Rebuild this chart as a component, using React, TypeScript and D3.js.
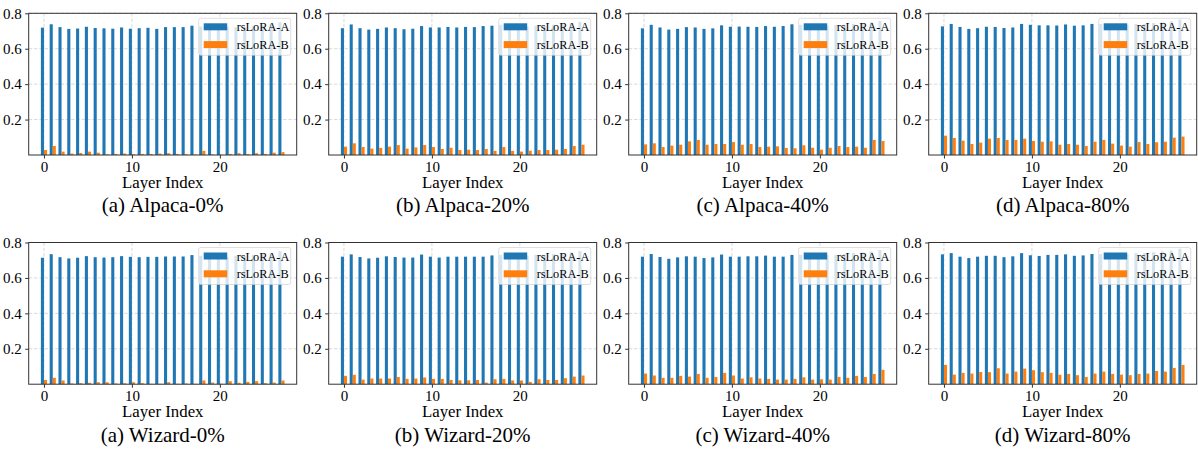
import React, {useEffect, useRef} from "react";
import * as d3 from "d3";

const layers = [0, 1, 2, 3, 4, 5, 6, 7, 8, 9, 10, 11, 12, 13, 14, 15, 16, 17, 18, 19, 20, 21, 22, 23, 24, 25, 26, 27];
const xTicks = [0, 10, 20];
const yTicks = [0.2, 0.4, 0.6, 0.8];
const seriesNames = ["rsLoRA-A", "rsLoRA-B"];
const seriesColors = ["#1f77b4", "#ff7f0e"];

// row 1: Alpaca
const alpaca0A = [0.719, 0.738, 0.722, 0.712, 0.714, 0.724, 0.717, 0.715, 0.713, 0.72, 0.713, 0.716, 0.718, 0.712, 0.722, 0.722, 0.722, 0.73, 0.725, 0.72, 0.72, 0.725, 0.722, 0.722, 0.727, 0.732, 0.738, 0.749];
const alpaca0B = [0.028, 0.051, 0.019, 0.008, 0.011, 0.019, 0.013, 0.004, 0.006, 0.008, 0.004, 0.006, 0.006, 0.008, 0.01, 0.006, 0.004, 0.003, 0.023, 0.003, 0.002, 0.006, 0.01, 0.005, 0.01, 0.006, 0.013, 0.016];
const alpaca20A = [0.716, 0.737, 0.716, 0.708, 0.712, 0.72, 0.716, 0.71, 0.713, 0.728, 0.72, 0.72, 0.723, 0.72, 0.723, 0.722, 0.728, 0.73, 0.735, 0.725, 0.72, 0.725, 0.73, 0.73, 0.735, 0.74, 0.745, 0.752];
const alpaca20B = [0.047, 0.066, 0.045, 0.036, 0.04, 0.047, 0.056, 0.036, 0.043, 0.056, 0.045, 0.034, 0.041, 0.028, 0.03, 0.028, 0.034, 0.023, 0.045, 0.023, 0.019, 0.024, 0.028, 0.028, 0.03, 0.034, 0.051, 0.058];
const alpaca40A = [0.715, 0.735, 0.72, 0.708, 0.712, 0.722, 0.72, 0.712, 0.715, 0.732, 0.724, 0.725, 0.724, 0.723, 0.728, 0.724, 0.728, 0.738, 0.735, 0.73, 0.725, 0.73, 0.735, 0.735, 0.74, 0.745, 0.75, 0.757];
const alpaca40B = [0.06, 0.066, 0.045, 0.053, 0.058, 0.077, 0.085, 0.058, 0.062, 0.062, 0.073, 0.058, 0.062, 0.045, 0.047, 0.049, 0.04, 0.038, 0.055, 0.041, 0.03, 0.041, 0.051, 0.045, 0.047, 0.041, 0.085, 0.079];
const alpaca80A = [0.726, 0.74, 0.723, 0.712, 0.716, 0.724, 0.723, 0.717, 0.72, 0.74, 0.735, 0.732, 0.732, 0.731, 0.737, 0.73, 0.732, 0.74, 0.74, 0.735, 0.73, 0.735, 0.74, 0.74, 0.745, 0.75, 0.755, 0.765];
const alpaca80B = [0.109, 0.096, 0.081, 0.062, 0.07, 0.092, 0.096, 0.085, 0.085, 0.092, 0.079, 0.075, 0.077, 0.058, 0.062, 0.058, 0.051, 0.075, 0.085, 0.064, 0.053, 0.047, 0.073, 0.062, 0.072, 0.075, 0.098, 0.104];

// row 2: Wizard
const wizard0A = [0.714, 0.734, 0.717, 0.71, 0.714, 0.723, 0.717, 0.715, 0.717, 0.723, 0.719, 0.717, 0.719, 0.719, 0.721, 0.721, 0.721, 0.729, 0.725, 0.72, 0.72, 0.72, 0.725, 0.725, 0.73, 0.735, 0.74, 0.751];
const wizard0B = [0.024, 0.036, 0.021, 0.004, 0.006, 0.008, 0.011, 0.011, 0.004, 0.005, 0.011, 0.006, 0.002, 0.002, 0.011, 0.002, 0.004, 0.002, 0.021, 0.009, 0.002, 0.017, 0.008, 0.013, 0.017, 0.006, 0.009, 0.021];
const wizard20A = [0.72, 0.733, 0.718, 0.71, 0.714, 0.722, 0.718, 0.715, 0.715, 0.732, 0.72, 0.715, 0.72, 0.72, 0.72, 0.72, 0.72, 0.727, 0.73, 0.725, 0.72, 0.725, 0.73, 0.73, 0.735, 0.74, 0.745, 0.752];
const wizard20B = [0.047, 0.053, 0.026, 0.032, 0.032, 0.032, 0.041, 0.03, 0.032, 0.038, 0.03, 0.03, 0.024, 0.022, 0.022, 0.024, 0.009, 0.028, 0.03, 0.021, 0.021, 0.013, 0.028, 0.024, 0.024, 0.034, 0.043, 0.049];
const wizard40A = [0.72, 0.735, 0.718, 0.708, 0.716, 0.722, 0.72, 0.712, 0.716, 0.732, 0.72, 0.72, 0.722, 0.722, 0.726, 0.72, 0.72, 0.73, 0.73, 0.728, 0.72, 0.728, 0.73, 0.735, 0.74, 0.745, 0.75, 0.757];
const wizard40B = [0.06, 0.049, 0.036, 0.036, 0.047, 0.043, 0.058, 0.036, 0.041, 0.064, 0.049, 0.032, 0.039, 0.032, 0.03, 0.026, 0.026, 0.03, 0.039, 0.026, 0.028, 0.026, 0.041, 0.036, 0.047, 0.041, 0.058, 0.081];
const wizard80A = [0.733, 0.74, 0.72, 0.712, 0.72, 0.725, 0.725, 0.717, 0.722, 0.74, 0.728, 0.724, 0.73, 0.73, 0.733, 0.725, 0.727, 0.735, 0.735, 0.735, 0.73, 0.735, 0.74, 0.74, 0.745, 0.75, 0.755, 0.765];
const wizard80B = [0.109, 0.054, 0.064, 0.06, 0.069, 0.068, 0.09, 0.06, 0.071, 0.088, 0.079, 0.068, 0.064, 0.053, 0.058, 0.051, 0.041, 0.06, 0.071, 0.058, 0.054, 0.051, 0.058, 0.06, 0.075, 0.071, 0.092, 0.109];

const panelTitles = [
    "(a) Alpaca-0%", "(b) Alpaca-20%", "(c) Alpaca-40%", "(d) Alpaca-80%",
    "(a) Wizard-0%", "(b) Wizard-20%", "(c) Wizard-40%", "(d) Wizard-80%",
];
const panelA = [alpaca0A, alpaca20A, alpaca40A, alpaca80A, wizard0A, wizard20A, wizard40A, wizard80A];
const panelB = [alpaca0B, alpaca20B, alpaca40B, alpaca80B, wizard0B, wizard20B, wizard40B, wizard80B];

const FONT = "'Liberation Serif', 'Times New Roman', serif";

export default function App() {
    const ref = useRef<SVGSVGElement>(null);

    useEffect(() => {
        const size = {width: 1198, height: 450};
        const plot = {width: 268, height: 141.7};
        const colLeft = [28.7, 328.7, 628.7, 928.7];
        const rowTop = [13.3, 242.5];
        const barWidth = 0.35;

        const svg = d3.select(ref.current);
        svg.selectAll("*").remove();
        svg.attr("width", size.width).attr("height", size.height);

        panelTitles.forEach((title, p) => {
            const a = panelA[p];
            const b = panelB[p];
            const g = svg.append("g")
                .attr("transform", `translate(${colLeft[p % 4]},${rowTop[Math.floor(p / 4)]})`);

            const x = d3.scaleLinear().domain([-1.735, 28.735]).range([0, plot.width]);
            const y = d3.scaleLinear().domain([0, 0.8]).range([plot.height, 0]);

            // grid behind the bars
            g.selectAll(".vgrid").data(xTicks).enter().append("line")
                .attr("x1", d => x(d)).attr("x2", d => x(d))
                .attr("y1", 0).attr("y2", plot.height)
                .attr("stroke", "#d0d0d0").attr("stroke-width", 0.8)
                .attr("stroke-dasharray", "3.5,1.8");
            g.selectAll(".hgrid").data(yTicks).enter().append("line")
                .attr("x1", 0).attr("x2", plot.width)
                .attr("y1", d => y(d)).attr("y2", d => y(d))
                .attr("stroke", "#d0d0d0").attr("stroke-width", 0.8)
                .attr("stroke-dasharray", "3.5,1.8");

            const bw = x(barWidth) - x(0);
            g.selectAll(".barA").data(layers).enter().append("rect")
                .attr("x", i => x(i - barWidth))
                .attr("y", i => y(a[i]))
                .attr("width", bw)
                .attr("height", i => y(0) - y(a[i]))
                .attr("fill", seriesColors[0]);
            g.selectAll(".barB").data(layers).enter().append("rect")
                .attr("x", i => x(i))
                .attr("y", i => y(b[i]))
                .attr("width", bw)
                .attr("height", i => y(0) - y(b[i]))
                .attr("fill", seriesColors[1]);

            const yAxis = d3.axisLeft(y).tickValues(yTicks).tickFormat(d3.format(".1f"))
                .tickSize(3.5).tickPadding(3.5);
            const xAxis = d3.axisBottom(x).tickValues(xTicks).tickFormat(d3.format("d"))
                .tickSize(3.5).tickPadding(3);

            const ya = g.append("g").attr("color", "#333").call(yAxis);
            const xa = g.append("g").attr("color", "#333")
                .attr("transform", `translate(0,${plot.height})`).call(xAxis);
            [ya, xa].forEach(ax => {
                ax.attr("font-family", FONT).attr("font-size", 15);
                ax.select(".domain").remove();
                ax.selectAll("text").attr("fill", "#000");
            });

            // spines
            g.append("rect")
                .attr("width", plot.width).attr("height", plot.height)
                .attr("fill", "none").attr("stroke", "#333").attr("stroke-width", 1);

            // legend, upper right, semi-transparent
            const lw = 92, lh = 37;
            const lg = g.append("g").attr("transform", `translate(${plot.width - 6 - lw},5)`);
            lg.append("rect")
                .attr("width", lw).attr("height", lh).attr("rx", 2)
                .attr("fill", "#fff").attr("fill-opacity", 0.8)
                .attr("stroke", "#ccc").attr("stroke-opacity", 0.8).attr("stroke-width", 0.8);
            seriesNames.forEach((name, k) => {
                lg.append("rect")
                    .attr("x", 5).attr("y", 5 + k * 17.8)
                    .attr("width", 23.5).attr("height", 7)
                    .attr("fill", seriesColors[k]);
                lg.append("text")
                    .attr("x", 38).attr("y", 13.2 + k * 17.3)
                    .attr("font-family", FONT).attr("font-size", 12.3)
                    .text(name);
            });

            g.append("text")
                .attr("x", plot.width / 2).attr("y", plot.height + 33)
                .attr("text-anchor", "middle")
                .attr("font-family", FONT).attr("font-size", 16.8)
                .text("Layer Index");

            g.append("text")
                .attr("x", plot.width / 2).attr("y", plot.height + 57.5)
                .attr("text-anchor", "middle")
                .attr("font-family", FONT).attr("font-size", 21)
                .text(title);
        });
    }, []);

    return <svg ref={ref} style={{position: "absolute", left: 0, top: 0, background: "#fff"}}/>;
}
